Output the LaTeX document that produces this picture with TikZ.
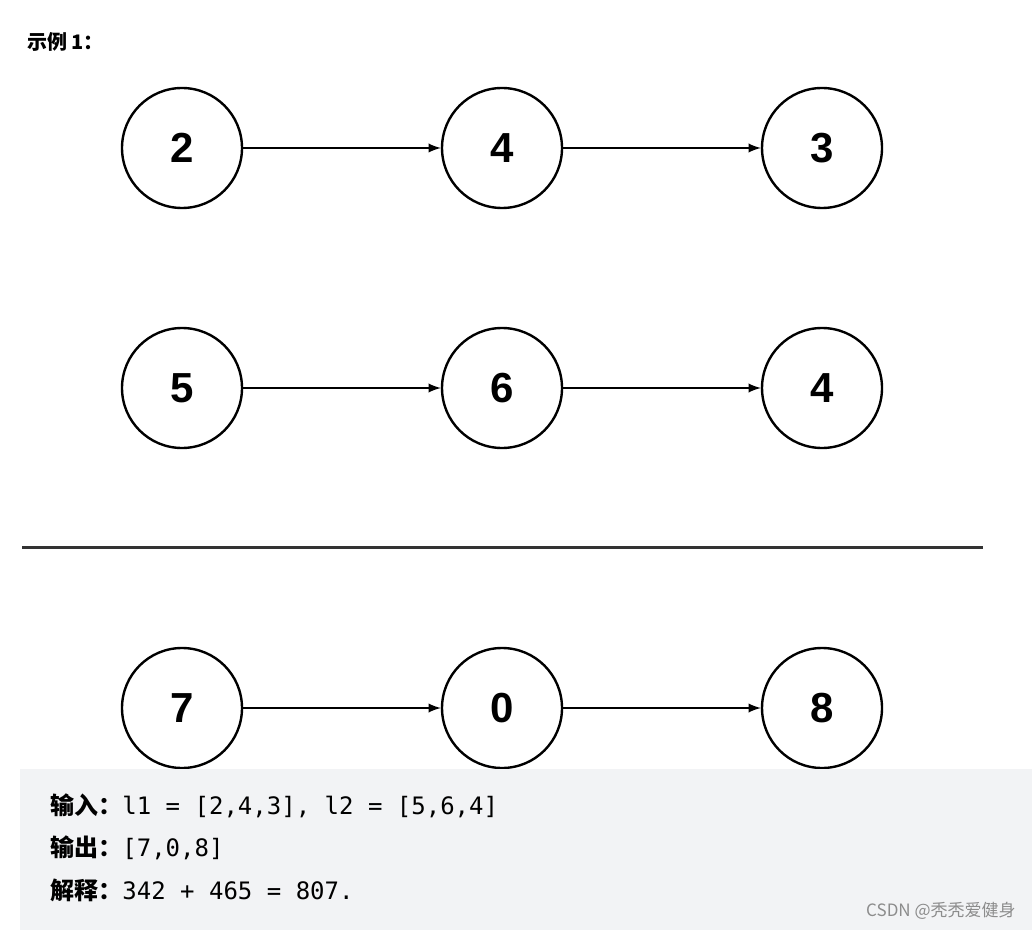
\documentclass[tikz,border=0pt]{standalone}
\usepackage{fontspec}
\setmainfont{Liberation Sans}
\setmonofont{DejaVu Sans Mono}
\newfontfamily\cjk{Noto Sans CJK SC}
\usetikzlibrary{positioning}
\definecolor{codebg}{HTML}{F2F3F5}
\tikzset{
  listnode/.style={circle, draw, line width=1.2pt, minimum size=60pt, inner sep=0pt, font=\fontsize{21}{21}\selectfont\bfseries},
  link/.style={-latex, line width=1.1pt},
}
\begin{document}
\begin{tikzpicture}[x=0.5pt,y=-0.5pt]
    \useasboundingbox (0,0) rectangle (1032,930);

    \node[anchor=west, font=\cjk\fontsize{10}{10}\selectfont\bfseries] (title) at (20,42) {示例 1：};

    % l1
    \node[listnode] (a1) at (182,148) {2};
    \node[listnode] (a2) at (502,148) {4};
    \node[listnode] (a3) at (822,148) {3};
    \draw[link] (a1) -- (a2);
    \draw[link] (a2) -- (a3);

    % l2
    \node[listnode] (b1) at (182,388) {5};
    \node[listnode] (b2) at (502,388) {6};
    \node[listnode] (b3) at (822,388) {4};
    \draw[link] (b1) -- (b2);
    \draw[link] (b2) -- (b3);

    \coordinate (lineL) at (22,547);
    \coordinate (lineR) at (983,547);
    \draw[line width=1.5pt, black!80] (lineL) -- (lineR);

    % result
    \node[listnode] (c1) at (182,708) {7};
    \node[listnode] (c2) at (502,708) {0};
    \node[listnode] (c3) at (822,708) {8};
    \draw[link] (c1) -- (c2);
    \draw[link] (c2) -- (c3);

    \fill[codebg] (20,769) rectangle (1032,930);
    \node[anchor=west, inner sep=0pt, font=\fontsize{12}{12}\selectfont] (in) at (50,806) {{\cjk\bfseries 输入：}\texttt{l1 = [2,4,3], l2 = [5,6,4]}};
    \node[anchor=west, inner sep=0pt, font=\fontsize{12}{12}\selectfont] (out) at (50,848) {{\cjk\bfseries 输出：}\texttt{[7,0,8]}};
    \node[anchor=west, inner sep=0pt, font=\fontsize{12}{12}\selectfont] (expl) at (50,890) {{\cjk\bfseries 解释：}\texttt{342 + 465 = 807.}};
    \node[anchor=east, inner sep=0pt, text=black!45, font=\cjk\fontsize{8.5}{8.5}\selectfont] (mark) at (1016,911) {CSDN @秃秃爱健身};
\end{tikzpicture}
\end{document}
